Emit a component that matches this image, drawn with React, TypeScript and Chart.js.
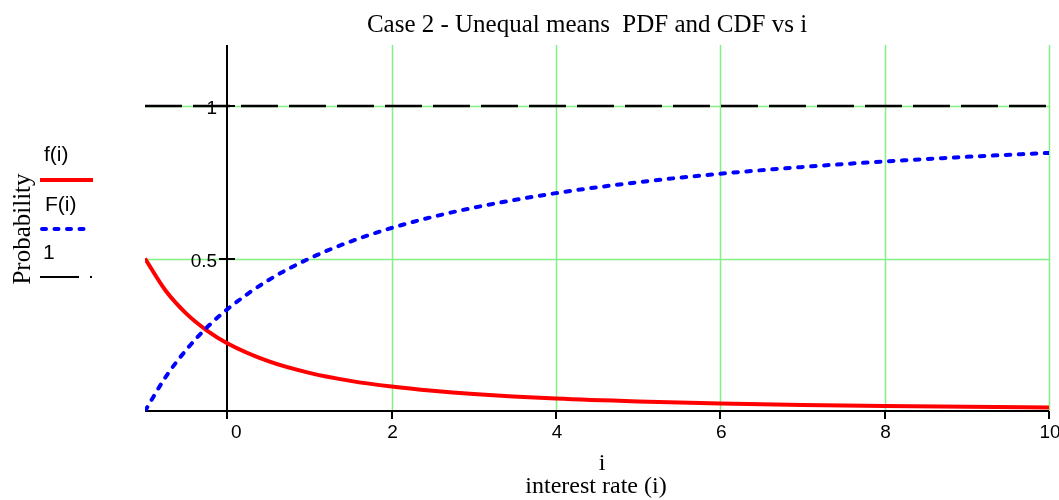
import React, { useEffect, useRef } from "react";
import { Chart, registerables } from "chart.js";

Chart.register(...registerables);

const chartTitle = "Case 2 - Unequal means  PDF and CDF vs i";
const xAxisVar = "i";
const xAxisTitle = "interest rate (i)";
const yAxisTitle = "Probability";
const legendLabels = ["f(i)", "F(i)", "1"];

const iValues = [-1, -0.75, -0.5, -0.25, 0, 0.5, 1, 1.5, 2, 2.5, 3, 4, 5, 6, 7, 8, 9, 10];
const pdfValues = [0.5, 0.395, 0.32, 0.2645, 0.2222, 0.1633, 0.125, 0.0988, 0.08, 0.0661, 0.0556, 0.0408, 0.0313, 0.0247, 0.02, 0.0165, 0.0139, 0.0118];
const cdfValues = [0, 0.111, 0.2, 0.273, 0.3333, 0.4286, 0.5, 0.5556, 0.6, 0.6364, 0.6667, 0.7143, 0.75, 0.7778, 0.8, 0.8182, 0.8333, 0.8462];
const oneXValues = [-1, 10];
const oneValues = [1, 1];

const xTickValues = [0, 2, 4, 6, 8, 10];
const yTickValues = [0.5, 1];
const xMin = -1;
const xMax = 10;
const yMin = 0;
const yMax = 1.2;

const SERIF = "'Liberation Serif', 'Times New Roman', serif";
const SANS = "'Liberation Sans', Arial, sans-serif";
const GREEN = "#82f082";

const mathcadPlugin = {
  id: "mathcadDecor",
  beforeDatasetsDraw(chart: any) {
    const { ctx, chartArea: a, scales } = chart;
    const xs = scales.x;
    const ys = scales.y;
    ctx.save();
    // green grid
    ctx.strokeStyle = GREEN;
    ctx.lineWidth = 1.5;
    xTickValues.forEach((v) => {
      if (v === 0) return;
      const px = Math.round(xs.getPixelForValue(v)) + 0.5;
      ctx.beginPath();
      ctx.moveTo(px, a.top);
      ctx.lineTo(px, a.bottom);
      ctx.stroke();
    });
    yTickValues.forEach((v) => {
      const py = Math.round(ys.getPixelForValue(v)) + 0.5;
      ctx.beginPath();
      ctx.moveTo(a.left, py);
      ctx.lineTo(a.right, py);
      ctx.stroke();
    });
    // axes
    ctx.strokeStyle = "#000";
    ctx.lineWidth = 2;
    const x0 = Math.round(xs.getPixelForValue(0));
    const y0 = Math.round(ys.getPixelForValue(0));
    ctx.beginPath();
    ctx.moveTo(x0, a.top);
    ctx.lineTo(x0, y0 + 8);
    ctx.stroke();
    ctx.beginPath();
    ctx.moveTo(a.left, y0);
    ctx.lineTo(a.right, y0);
    ctx.stroke();
    xTickValues.forEach((v) => {
      const px = Math.round(xs.getPixelForValue(v));
      ctx.beginPath();
      ctx.moveTo(px, y0);
      ctx.lineTo(px, y0 + 8);
      ctx.stroke();
    });
    yTickValues.forEach((v) => {
      const py = Math.round(ys.getPixelForValue(v));
      ctx.beginPath();
      ctx.moveTo(x0 - 8, py);
      ctx.lineTo(x0 + 8, py);
      ctx.stroke();
    });
    ctx.restore();
  },
  afterDraw(chart: any) {
    const { ctx, scales } = chart;
    const xs = scales.x;
    const ys = scales.y;
    ctx.save();
    ctx.fillStyle = "#000";
    // title
    ctx.font = `25px ${SERIF}`;
    ctx.textAlign = "center";
    ctx.textBaseline = "alphabetic";
    ctx.fillText(chartTitle, 587, 32);
    // x axis titles
    ctx.font = `24px ${SERIF}`;
    ctx.fillText(xAxisVar, 602, 470);
    ctx.fillText(xAxisTitle, 596, 493);
    // y axis title
    ctx.save();
    ctx.translate(23, 229);
    ctx.rotate(-Math.PI / 2);
    ctx.font = `25px ${SERIF}`;
    ctx.textBaseline = "middle";
    ctx.fillText(yAxisTitle, 0, 0);
    ctx.restore();
    // tick labels
    ctx.font = `19px ${SANS}`;
    ctx.textAlign = "center";
    ctx.textBaseline = "middle";
    const y0 = ys.getPixelForValue(0);
    xTickValues.forEach((v) => {
      const px = xs.getPixelForValue(v) + (v === 0 ? 9 : 1);
      ctx.fillText(String(v), px, y0 + 22);
    });
    ctx.textAlign = "right";
    const x0 = xs.getPixelForValue(0);
    yTickValues.forEach((v) => {
      ctx.fillText(String(v), x0 - 10, ys.getPixelForValue(v) + 3);
    });
    // legend
    ctx.textAlign = "left";
    ctx.font = `21px ${SANS}`;
    ctx.fillText(legendLabels[0], 44, 155);
    ctx.fillText(legendLabels[1], 45, 205);
    ctx.fillText(legendLabels[2], 43, 253);
    ctx.lineCap = "butt";
    ctx.strokeStyle = "#ff0000";
    ctx.lineWidth = 4;
    ctx.beginPath();
    ctx.moveTo(40, 180);
    ctx.lineTo(93, 180);
    ctx.stroke();
    ctx.strokeStyle = "#0000ff";
    ctx.lineWidth = 4;
    ctx.lineCap = "round";
    ctx.setLineDash([4, 8.5]);
    ctx.beginPath();
    ctx.moveTo(42, 229);
    ctx.lineTo(86, 229);
    ctx.stroke();
    ctx.setLineDash([]);
    ctx.lineCap = "butt";
    ctx.strokeStyle = "#000";
    ctx.lineWidth = 2;
    ctx.beginPath();
    ctx.moveTo(40, 277);
    ctx.lineTo(79, 277);
    ctx.stroke();
    ctx.fillRect(90, 276, 2, 2);
    ctx.restore();
  },
};

export default function App() {
  const canvasRef = useRef<HTMLCanvasElement | null>(null);

  useEffect(() => {
    const canvas = canvasRef.current;
    if (!canvas) return;
    const chart = new Chart(canvas, {
      type: "line",
      data: {
        datasets: [
          {
            label: legendLabels[2],
            data: oneXValues.map((x, k) => ({ x, y: oneValues[k] })),
            borderColor: "#000",
            borderWidth: 2.5,
            borderDash: [37, 11],
            pointRadius: 0,
          },
          {
            label: legendLabels[1],
            data: iValues.map((x, k) => ({ x, y: cdfValues[k] })),
            borderColor: "#0000ff",
            borderWidth: 4,
            borderDash: [4.5, 8.5],
            borderCapStyle: "round",
            cubicInterpolationMode: "monotone",
            pointRadius: 0,
          },
          {
            label: legendLabels[0],
            data: iValues.map((x, k) => ({ x, y: pdfValues[k] })),
            borderColor: "#ff0000",
            borderWidth: 4,
            cubicInterpolationMode: "monotone",
            pointRadius: 0,
          },
        ],
      },
      options: {
        responsive: false,
        animation: false,
        devicePixelRatio: 1,
        layout: { padding: { left: 145, right: 10, top: 45, bottom: 89 } },
        plugins: {
          legend: { display: false },
          title: { display: false },
          tooltip: { enabled: false },
        },
        scales: {
          x: { type: "linear", min: xMin, max: xMax, display: false },
          y: { type: "linear", min: yMin, max: yMax, display: false },
        },
      },
      plugins: [mathcadPlugin],
    } as any);
    return () => chart.destroy();
  }, []);

  return (
    <div style={{ position: "absolute", left: 0, top: 0, width: 1059, height: 500, background: "#fff" }}>
      <canvas ref={canvasRef} width={1059} height={500} style={{ display: "block" }} />
    </div>
  );
}
